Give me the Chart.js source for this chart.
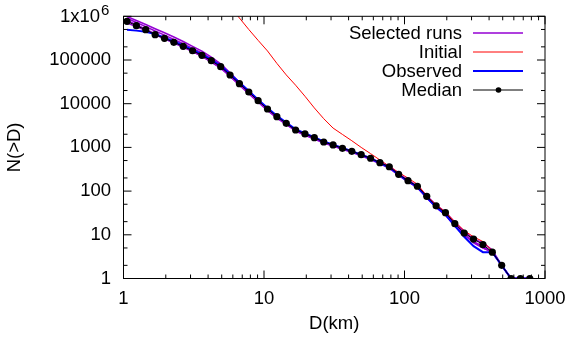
<!DOCTYPE html>
<html lang="en">
<head>
  <meta charset="UTF-8" />
  <title>N(>D) vs D</title>
  <script src="https://cdn.jsdelivr.net/npm/chart.js"></script>
  <style>
    body { margin: 0; background: #fff; }
    #chart { display: block; }
  </style>
</head>
<body>
  <canvas id="chart" width="571" height="338"></canvas>

  <script>
    // diameter bins (km), 15 per decade
    const diam = [1.059, 1.235, 1.440, 1.679, 1.957, 2.282, 2.661, 3.102, 3.617, 4.217,
      4.917, 5.733, 6.683, 7.793, 9.085, 10.59, 12.35, 14.40, 16.79, 19.57,
      22.82, 26.61, 31.02, 36.17, 42.17, 49.17, 57.33, 66.83, 77.93, 90.85,
      105.9, 123.5, 144.0, 167.9, 195.7, 228.2, 266.1, 310.2, 361.7, 421.7,
      491.7, 573.3, 668.3, 779.3];

    const median = [769000, 610000, 493000, 379000, 314000, 254000, 206000, 163000, 128000, 96400,
      70300, 45400, 28700, 18500, 11700, 7570, 5050, 3560, 2500, 2030,
      1670, 1330, 1140, 953, 815, 681, 564, 447, 361, 242,
      173, 129, 76, 46, 32, 18, 11, 8, 6, 4,
      2, 1, 1, 1];

    const observed = [493000, 470000, 445000, 395000, 325000, 265000, 215000, 170000, 134000, 101000,
      74000, 48000, 30500, 19600, 12400, 8000, 5300, 3700, 2600, 2100,
      1720, 1360, 1160, 970, 820, 680, 560, 440, 350, 236,
      168, 124, 72, 43, 29, 16, 9, 5.5, 4, 4,
      2, 1, 1, 1];

    // starts above the top of the plot, first value off-scale
    const initialStart = 11;
    const initial = [1670000, 914000, 499000, 281000, 161000, 83600, 45600, 26500, 14800,
      8000, 4540, 2770, 1980, 1420, 1000, 721, 515, 370, 267,
      198, 144, 77, 49, 33, 20, 12.4, 9, 7, 4.3,
      2, 1, 1, 1];

    const runA = [990000, 800000, 650000, 520000, 420000, 335000, 265000, 205000, 160000, 116000,
      82000, 51000, 31000, 19500, 12000, 7700, 5100, 3600, 2500, 2050,
      1680, 1340, 1150, 960, 820, 690, 575, 455, 370, 250,
      178, 132, 78, 48, 33, 19, 12, 8, 6.5, 4.5,
      2, 1, 1, 1];
    const runB = [900000, 720000, 580000, 460000, 370000, 295000, 235000, 185000, 145000, 106000,
      76000, 47000, 29500, 18700, 11600, 7400, 4900, 3450, 2420, 1960,
      1610, 1290, 1100, 920, 790, 660, 545, 430, 345, 235,
      168, 125, 73, 44, 30, 17, 10, 7, 5.5, 4,
      2, 1, 1, 1];
    const runC = [800000, 640000, 510000, 395000, 320000, 255000, 200000, 157000, 122000, 90000,
      65000, 42000, 26500, 17000, 10800, 7000, 4700, 3350, 2350, 1900,
      1560, 1250, 1070, 900, 770, 645, 530, 420, 335, 228,
      162, 120, 70, 42, 28, 16, 10, 6.5, 5, 4,
      2, 1, 1, 1];
    const runD = [700000, 580000, 470000, 375000, 305000, 245000, 197000, 155000, 121000, 91000,
      67000, 43500, 27500, 17800, 11200, 7250, 4850, 3450, 2430, 1980,
      1620, 1300, 1110, 935, 800, 665, 550, 435, 350, 238,
      170, 126, 74, 45, 29, 17, 10.5, 7, 5, 4,
      2, 1, 1, 1];
    const runs = [runA, runB, runC, runD];

    const xTicks = [1, 10, 100, 1000];
    const yTicks = [1, 10, 100, 1000, 10000, 100000, 1000000];
    const xMinor = [2, 3, 4, 5, 6, 7, 8, 9];
    const yMinor = [2, 5];

    const legendNames = ['Selected runs', 'Initial', 'Observed', 'Median'];

    const RUN_COLOR = '#9400d3';
    const INIT_COLOR = '#ff0000';
    const OBS_COLOR = '#0000ff';
    const MED_COLOR = '#000000';
    const FONT = { family: '"Liberation Sans", Arial, Helvetica, sans-serif', size: 18.5 };
    const fontStr = (px) => px + 'px "Liberation Sans", Arial, Helvetica, sans-serif';

    const pts = (arr, start = 0) => arr.map((v, i) => ({ x: diam[i + start], y: v }));

    const datasets = runs.map((r, i) => ({
      label: 'run' + i,
      data: pts(r),
      borderColor: RUN_COLOR,
      borderWidth: 1.5,
      pointRadius: 0,
      order: 3
    }));
    datasets.push({
      label: 'Initial', data: pts(initial, initialStart),
      borderColor: INIT_COLOR, borderWidth: 1, pointRadius: 0, order: 2
    });
    datasets.push({
      label: 'Observed', data: pts(observed),
      borderColor: OBS_COLOR, borderWidth: 2, pointRadius: 0, order: 1
    });
    datasets.push({
      label: 'Median', data: pts(median),
      borderColor: MED_COLOR, borderWidth: 1, pointRadius: 3.6,
      pointBackgroundColor: MED_COLOR, pointBorderWidth: 0, order: 0
    });

    // frame, inward ticks on all four sides, the 1x10^6 label and the key
    const framePlugin = {
      id: 'frame',
      afterDraw(chart) {
        const c = chart.ctx;
        const a = chart.chartArea;
        const xs = chart.scales.x, ys = chart.scales.y;
        c.save();
        c.strokeStyle = '#000';
        c.lineWidth = 1;
        c.strokeRect(a.left, a.top, a.right - a.left, a.bottom - a.top);

        c.beginPath();
        xTicks.forEach(d => {
          const px = xs.getPixelForValue(d);
          c.moveTo(px, a.bottom); c.lineTo(px, a.bottom - 8);
          c.moveTo(px, a.top); c.lineTo(px, a.top + 8);
          if (d < 1000) {
            xMinor.forEach(m => {
              const p = xs.getPixelForValue(d * m);
              c.moveTo(p, a.bottom); c.lineTo(p, a.bottom - 4);
              c.moveTo(p, a.top); c.lineTo(p, a.top + 4);
            });
          }
        });
        yTicks.forEach(n => {
          const py = ys.getPixelForValue(n);
          c.moveTo(a.left, py); c.lineTo(a.left + 8, py);
          c.moveTo(a.right, py); c.lineTo(a.right - 8, py);
          if (n < 1000000) {
            yMinor.forEach(m => {
              const p = ys.getPixelForValue(n * m);
              c.moveTo(a.left, p); c.lineTo(a.left + 4, p);
              c.moveTo(a.right, p); c.lineTo(a.right - 4, p);
            });
          }
        });
        c.stroke();

        // top y label with superscript
        const topY = ys.getPixelForValue(1000000);
        c.fillStyle = '#000';
        c.textBaseline = 'middle';
        c.textAlign = 'right';
        c.font = fontStr(18.5);
        c.fillText('1x10', 100, topY + 1);
        c.textAlign = 'left';
        c.font = fontStr(15);
        c.fillText('6', 101, topY - 5);

        // key
        const rows = [33, 52, 71, 90];
        const cols = [RUN_COLOR, INIT_COLOR, OBS_COLOR, MED_COLOR];
        const widths = [1.5, 1, 2, 1];
        c.font = fontStr(18.5);
        c.textAlign = 'right';
        legendNames.forEach((name, i) => {
          c.fillStyle = '#000';
          c.fillText(name, 462, rows[i] + 1);
          c.beginPath();
          c.strokeStyle = cols[i];
          c.lineWidth = widths[i];
          c.moveTo(473, rows[i]); c.lineTo(523, rows[i]);
          c.stroke();
        });
        c.beginPath();
        c.fillStyle = MED_COLOR;
        c.arc(498.5, rows[3], 2.8, 0, Math.PI * 2);
        c.fill();
        c.restore();
      }
    };

    new Chart(document.getElementById('chart'), {
      type: 'line',
      data: { datasets },
      options: {
        responsive: false,
        animation: false,
        layout: { padding: { left: 0, right: 26, top: 16.3, bottom: 0 } },
        plugins: { legend: { display: false }, tooltip: { enabled: false } },
        scales: {
          x: {
            type: 'logarithmic', min: 1, max: 1000,
            grid: { display: false, drawTicks: false },
            border: { display: false },
            afterBuildTicks: s => { s.ticks = xTicks.map(v => ({ value: v })); },
            afterFit: s => { s.height = 59.5; s.paddingLeft = 0; s.paddingRight = 0; },
            ticks: { font: FONT, color: '#000', padding: 9, autoSkip: false, maxRotation: 0,
              callback: v => String(v) },
            title: { display: true, text: 'D(km)', font: FONT, color: '#000', padding: { top: 0, bottom: 3 } }
          },
          y: {
            type: 'logarithmic', min: 1, max: 1000000,
            grid: { display: false, drawTicks: false },
            border: { display: false },
            afterBuildTicks: s => { s.ticks = yTicks.map(v => ({ value: v })); },
            afterFit: s => { s.width = 123.5; s.paddingTop = 0; s.paddingBottom = 0; },
            ticks: { font: FONT, color: '#000', padding: 12.5, autoSkip: false,
              callback: v => (v >= 1000000 ? '' : String(v)) },
            title: { display: true, text: 'N(>D)', font: FONT, color: '#000', padding: { top: 4, bottom: 0 } }
          }
        }
      },
      plugins: [framePlugin]
    });
  </script>
</body>
</html>
